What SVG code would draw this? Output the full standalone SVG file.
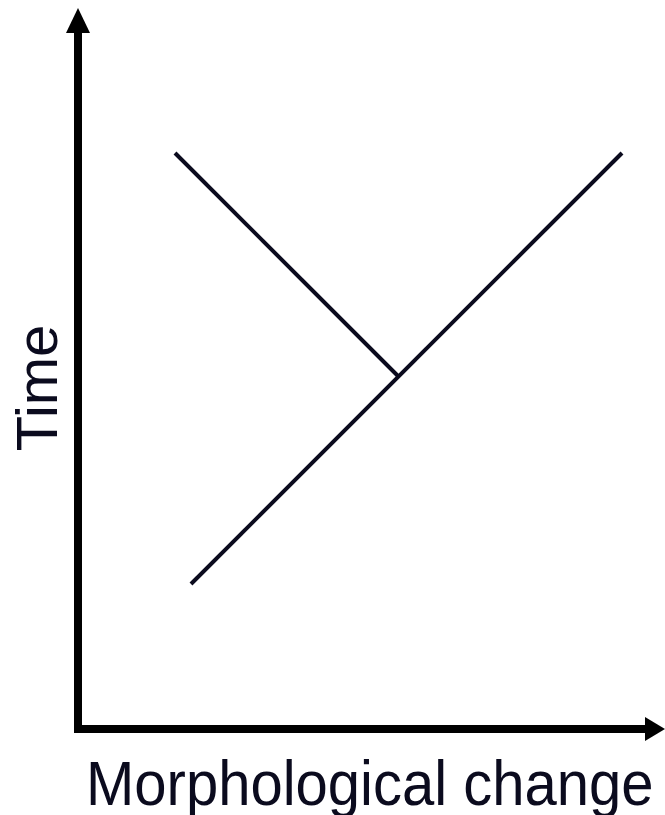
<svg xmlns="http://www.w3.org/2000/svg" width="665" height="815" viewBox="0 0 665 815">
<style>
.axis{stroke:#000;stroke-width:8;fill:none}
.branch{stroke:#0b0b1e;stroke-width:4;fill:none}
.lbl{font-family:"Liberation Sans",Arial,sans-serif;font-size:58px;fill:#0b0b1e}
</style>
<rect width="665" height="815" fill="#fff"/>
<g id="axes">
<line class="axis" x1="78" y1="30" x2="78" y2="733"/>
<line class="axis" x1="74" y1="729" x2="645" y2="729"/>
<polygon points="78,8 66,33 90,33" fill="#000"/>
<polygon points="665,729 645,717 645,741" fill="#000"/>
</g>
<g id="connectors">
<line class="branch" x1="175" y1="153" x2="399" y2="377"/>
<line class="branch" x1="191" y1="584" x2="622" y2="153"/>
</g>
<g id="label-time"><text class="lbl" transform="translate(57,388) rotate(-90)" text-anchor="middle">Time</text></g>
<g id="label-x"><text class="lbl" transform="translate(86,805) scale(1,1.08)">Morphological change</text></g>
</svg>
